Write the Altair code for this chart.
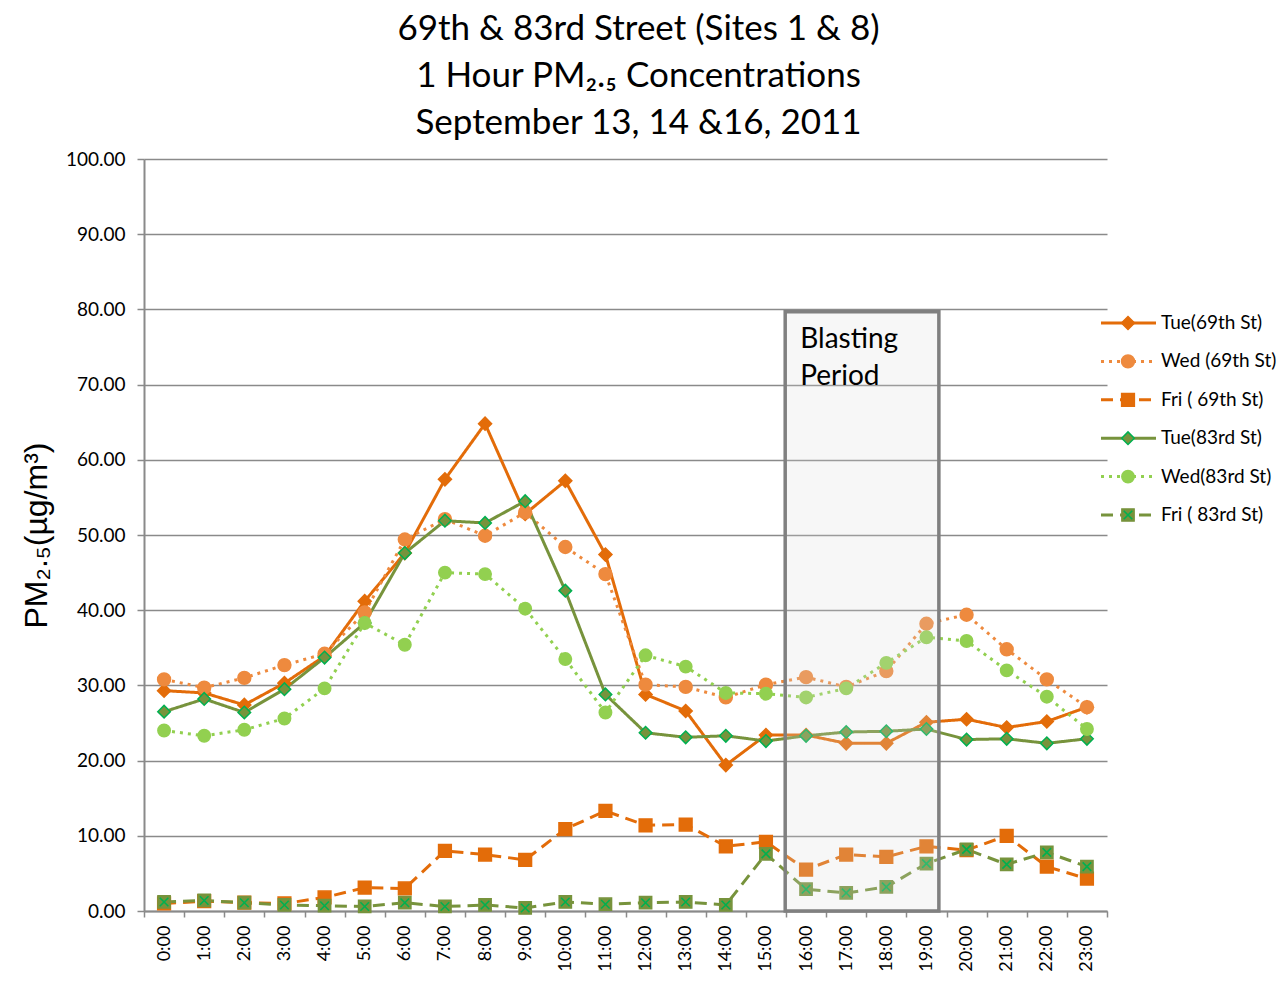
import altair as alt
import pandas as pd

# ---- data ----
hour_labels = ["0:00", "1:00", "2:00", "3:00", "4:00", "5:00", "6:00", "7:00", "8:00", "9:00",
               "10:00", "11:00", "12:00", "13:00", "14:00", "15:00", "16:00", "17:00", "18:00",
               "19:00", "20:00", "21:00", "22:00", "23:00"]

series = ["Tue(69th St)", "Wed (69th St)", "Fri ( 69th St)", "Tue(83rd St)", "Wed(83rd St)", "Fri ( 83rd St)"]

tue69 = [29.3, 29.0, 27.4, 30.3, 33.9, 41.2, 47.6, 57.4, 64.8, 52.8, 57.2, 47.4,
         28.8, 26.6, 19.4, 23.4, 23.4, 22.3, 22.3, 25.1, 25.5, 24.4, 25.2, 27.1]
wed69 = [30.8, 29.7, 31.0, 32.7, 34.2, 39.7, 49.4, 52.1, 49.9, 53.0, 48.4, 44.8,
         30.1, 29.8, 28.4, 30.1, 31.1, 29.8, 31.9, 38.2, 39.4, 34.8, 30.8, 27.1]
fri69 = [1.0, 1.3, 1.1, 1.0, 1.8, 3.1, 3.0, 8.0, 7.5, 6.8, 10.9, 13.3,
         11.4, 11.5, 8.6, 9.2, 5.5, 7.5, 7.2, 8.6, 8.1, 10.0, 5.9, 4.3]
tue83 = [26.5, 28.2, 26.4, 29.5, 33.7, 38.3, 47.6, 51.9, 51.6, 54.5, 42.6, 28.8,
         23.7, 23.1, 23.3, 22.6, 23.3, 23.8, 23.9, 24.2, 22.8, 22.9, 22.3, 22.9]
wed83 = [24.0, 23.3, 24.1, 25.6, 29.6, 38.3, 35.4, 45.0, 44.8, 40.2, 33.5, 26.4,
         34.0, 32.5, 29.0, 28.9, 28.4, 29.6, 33.0, 36.4, 35.9, 32.0, 28.5, 24.2]
fri83 = [1.2, 1.4, 1.1, 0.8, 0.7, 0.6, 1.1, 0.6, 0.8, 0.4, 1.2, 0.9,
         1.1, 1.2, 0.8, 7.6, 2.9, 2.4, 3.2, 6.3, 8.2, 6.2, 7.8, 5.9]

y_ticks = [0, 10, 20, 30, 40, 50, 60, 70, 80, 90, 100]

blast_start = 15.48
blast_end = 19.31
blast_top = 79.7
blast_label = "Blasting\nPeriod"

title_lines = ["69th & 83rd Street (Sites 1 & 8)", "1 Hour PM₂.₅ Concentrations", "September 13, 14 &16, 2011"]
y_title = "PM₂.₅(µg/m³)"

# ---- styles ----
line_colors = ["#E36C09", "#EE8A3E", "#E36C09", "#77933C", "#92D050", "#77933C"]
fill_colors = ["#E36C09", "#EE8A3E", "#E36C09", "#77933C", "#92D050", "#77933C"]
stroke_colors = ["#E36C09", "#EE8A3E", "#E36C09", "#00B050", "#92D050", "#77933C"]
dashes = [[1, 0], [3, 5], [12, 7], [1, 0], [3, 5], [12, 7]]
shapes = ["diamond", "circle", "square", "diamond", "circle", "square"]
sizes = [170, 150, 144, 170, 150, 144]
XPATH = "M-0.75,-0.75L0.75,0.75M0.75,-0.75L-0.75,0.75"
FONT = "Lato"
GRID = "#8a8a8a"

all_vals = [tue69, wed69, fri69, tue83, wed83, fri83]
rows = []
for s, vals in zip(series, all_vals):
    for i, v in enumerate(vals):
        rows.append({"series": s, "hour": i, "value": v})
df = pd.DataFrame(rows)

blast = pd.DataFrame([{"start": blast_start, "end": blast_end, "top": blast_top, "bottom": 0,
                       "label": blast_label}])
leg = pd.DataFrame({"series": series, "label": series})

xscale = alt.Scale(domain=[-0.5, 23.5], nice=False, zero=False)
yscale = alt.Scale(domain=[0, 100], nice=False)
color = alt.Color("series:N", scale=alt.Scale(domain=series, range=line_colors), legend=None)
dash = alt.StrokeDash("series:N", scale=alt.Scale(domain=series, range=dashes), legend=None)
shape = alt.Shape("series:N", scale=alt.Scale(domain=series, range=shapes), legend=None)
fill = alt.Fill("series:N", scale=alt.Scale(domain=series, range=fill_colors), legend=None)
stroke = alt.Stroke("series:N", scale=alt.Scale(domain=series, range=stroke_colors), legend=None)
size = alt.Size("series:N", scale=alt.Scale(domain=series, range=sizes), legend=None)

label_expr = "[" + ",".join("'%s'" % h for h in hour_labels) + "][datum.value]"

x_main = alt.X("hour:Q", scale=xscale,
               axis=alt.Axis(values=list(range(len(hour_labels))), labelExpr=label_expr, labelAngle=-90,
                             ticks=False, grid=False, domainColor=GRID, domainWidth=2,
                             labelFontSize=18, labelFont=FONT, labelColor="black", labelPadding=14,
                             title=None, orient="bottom"))
y_main = alt.Y("value:Q", scale=yscale,
               axis=alt.Axis(values=y_ticks, format=".2f", grid=True, gridColor=GRID, gridWidth=1.5,
                             tickSize=7, tickColor=GRID, tickWidth=1.5, domainColor=GRID, domainWidth=2,
                             labelFontSize=19, labelFont=FONT, labelColor="black", labelPadding=12,
                             title=y_title, titleFontSize=32, titleFont="Liberation Sans",
                             titleFontWeight="normal", titleColor="black", titlePadding=12))
x_none = alt.X("hour:Q", scale=xscale, axis=None)
y_none = alt.Y("value:Q", scale=yscale, axis=None)

base = alt.Chart(df)
lines = base.mark_line(strokeWidth=3).encode(x=x_main, y=y_main, color=color, strokeDash=dash)
points = base.mark_point(filled=True, strokeWidth=1.5, opacity=1).encode(
    x=x_none, y=y_none, shape=shape, fill=fill, stroke=stroke, size=size)
xs = base.transform_filter(alt.datum.series == series[5]).mark_point(
    shape=XPATH, filled=False, stroke="#00B050", strokeWidth=1.6, size=130, opacity=1).encode(
    x=x_none, y=y_none)

rect = alt.Chart(blast).mark_rect(fill="#d9d9d9", fillOpacity=0.22, stroke="#808080",
                                  strokeWidth=3.5).encode(
    x=alt.X("start:Q", scale=xscale,
            axis=alt.Axis(values=[i - 0.5 for i in range(len(hour_labels) + 1)], labels=False,
                          ticks=True, tickSize=6, tickColor=GRID, tickWidth=1.5, domain=False,
                          grid=False, title=None, orient="bottom")),
    x2="end:Q",
    y=alt.Y("top:Q", scale=yscale, axis=None), y2="bottom:Q")
rect_text = alt.Chart(blast).mark_text(align="left", baseline="top", fontSize=28, font=FONT,
                                       lineHeight=37, lineBreak="\n", dx=15, dy=14,
                                       color="black").encode(
    x=alt.X("start:Q", scale=xscale, axis=None),
    y=alt.Y("top:Q", scale=yscale, axis=None), text="label:N")

leg_y = alt.Y("series:N", scale=alt.Scale(type="point", domain=series, range=[164, 356], padding=0),
              axis=None)
lchart = alt.Chart(leg)
leg_rule = lchart.mark_rule(strokeWidth=3).encode(
    x=alt.value(957), x2=alt.value(1012), y=leg_y, color=color, strokeDash=dash)
leg_pts = lchart.mark_point(filled=True, strokeWidth=1.5, opacity=1).encode(
    x=alt.value(984), y=leg_y, shape=shape, fill=fill, stroke=stroke, size=size)
leg_x = lchart.transform_filter(alt.datum.series == series[5]).mark_point(
    shape=XPATH, filled=False, stroke="#00B050", strokeWidth=1.6, size=130, opacity=1).encode(
    x=alt.value(984), y=leg_y)
leg_text = lchart.mark_text(align="left", baseline="middle", fontSize=19, font=FONT,
                            color="black").encode(x=alt.value(1017), y=leg_y, text="label:N")

chart = alt.layer(lines, points, xs, rect, rect_text, leg_rule, leg_pts, leg_x, leg_text).resolve_scale(
    y="independent").resolve_axis(x="independent").properties(
    width=963, height=752,
    padding={"left": 12, "top": 4, "right": 0, "bottom": 0},
    title=alt.TitleParams(title_lines, fontSize=35, font=FONT, fontWeight="normal", lineHeight=47,
                          anchor="middle", frame="group", dx=13, offset=9, color="black"),
).configure_view(stroke=None)

chart.save("out.html", embed_options={"renderer": "svg", "actions": False})
